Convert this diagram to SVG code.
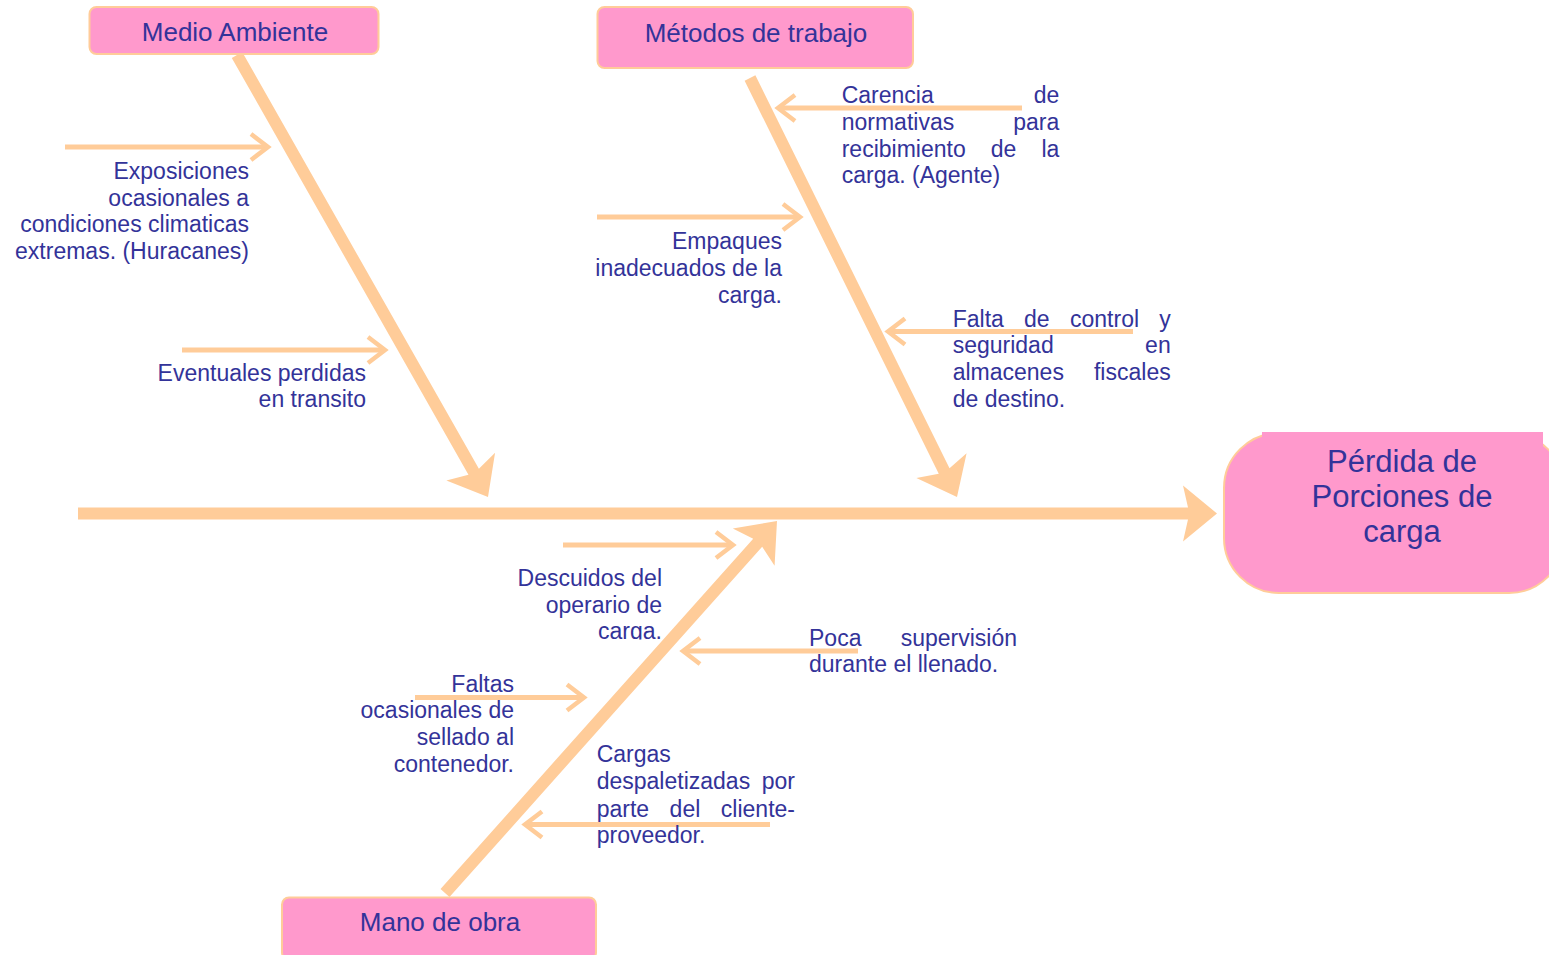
<svg xmlns="http://www.w3.org/2000/svg" width="1549" height="955" viewBox="0 0 1549 955">
<defs>
<style>
.lbl{font-family:"Liberation Sans",Arial,sans-serif;font-size:23px;fill:#333399}
.cat{font-family:"Liberation Sans",Arial,sans-serif;font-size:26px;fill:#333399;text-anchor:middle}
.eff{font-family:"Liberation Sans",Arial,sans-serif;font-size:31px;fill:#333399;text-anchor:middle}
.box{fill:#FF99CC;stroke:#FFCC99;stroke-width:2}
.bone{fill:#FFCC99}
.sub{stroke:#FFCC99;stroke-width:5;fill:none;marker-end:url(#chev)}
.e{text-anchor:end}
.m{text-anchor:middle}
</style>
<marker id="chev" markerUnits="userSpaceOnUse" markerWidth="26" markerHeight="34" refX="20" refY="17" orient="auto" viewBox="0 0 26 34">
<path d="M3,4 L20,17 L3,30" fill="none" stroke="#FFCC99" stroke-width="4.5"/>
</marker>
<clipPath id="clipF"><rect x="400" y="550" width="300" height="89.5"/></clipPath>
</defs>
<rect width="1549" height="955" fill="#FFFFFF"/>

<g id="connectors">
<polygon class="bone" id="spine" points="78,507.5 1188,507.5 1183,485.5 1217,513.5 1183,541.5 1188,519.5 78,519.5"/>
<polygon class="bone" id="bone-medio" points="231.78,57.96 468.46,474.74 446.37,480.39 488,497 495.07,452.73 478.9,468.82 242.22,52.04"/>
<polygon class="bone" id="bone-metodos" points="744.62,80.66 938.77,473.66 916.4,478.02 957,497 966.6,453.22 949.53,468.34 755.38,75.34"/>
<polygon class="bone" id="bone-mano" points="449.48,897 762.17,546.64 774.58,565.76 777,521 732.8,528.46 753.21,538.64 440.52,889"/>
<path class="sub" d="M65,147 H268"/>
<path class="sub" d="M182,350 H385"/>
<path class="sub" d="M597,217 H800"/>
<path class="sub" d="M1022,108 H778"/>
<path class="sub" d="M1133,331.5 H888"/>
<path class="sub" d="M563,545 H733"/>
<path class="sub" d="M858,651 H683"/>
<path class="sub" d="M415,697.5 H584"/>
<path class="sub" d="M770,824.5 H525"/>
</g>

<g id="node-medio">
<rect class="box" x="89.5" y="7" width="289" height="47" rx="7"/>
<text class="cat" x="235" y="40.5">Medio Ambiente</text>
</g>
<g id="node-metodos">
<rect class="box" x="597.5" y="7" width="315.5" height="61" rx="7"/>
<text class="cat" x="756" y="41.5">Métodos de trabajo</text>
</g>
<g id="node-mano">
<rect class="box" x="282" y="897.5" width="314" height="62" rx="7"/>
<text class="cat" x="440" y="931">Mano de obra</text>
</g>
<g id="node-efecto">
<rect class="box" x="1224" y="433" width="340" height="160" rx="55"/>
<rect x="1262" y="432" width="281" height="14" fill="#FF99CC"/>
<text class="eff"><tspan x="1402" y="472">Pérdida de</tspan><tspan x="1402" y="507">Porciones de</tspan><tspan x="1402" y="542">carga</tspan></text>
</g>

<g id="label-exposiciones">
<text class="lbl e"><tspan x="249" y="179.3">Exposiciones</tspan><tspan x="249" y="206">ocasionales a</tspan><tspan x="249" y="232">condiciones climaticas</tspan><tspan x="249" y="258.5">extremas. (Huracanes)</tspan></text>
</g>
<g id="label-eventuales">
<text class="lbl e"><tspan x="366" y="380.7">Eventuales perdidas</tspan><tspan x="366" y="407.3">en transito</tspan></text>
</g>
<g id="label-empaques">
<text class="lbl e"><tspan x="782" y="249.3">Empaques</tspan><tspan x="782" y="276">inadecuados de la</tspan><tspan x="782" y="302.5">carga.</tspan></text>
</g>
<g id="label-carencia">
<text class="lbl" x="841.7" y="103.3">Carencia</text>
<text class="lbl e" x="1059.3" y="103.3">de</text>
<text class="lbl" x="841.7" y="130">normativas</text>
<text class="lbl e" x="1059.3" y="130">para</text>
<text class="lbl" x="841.7" y="156.7">recibimiento</text>
<text class="lbl" x="990.7" y="156.7">de</text>
<text class="lbl e" x="1059.3" y="156.7">la</text>
<text class="lbl" x="841.7" y="183.3">carga. (Agente)</text>
</g>
<g id="label-falta">
<text class="lbl" x="952.7" y="326.7">Falta</text>
<text class="lbl" x="1024" y="326.7">de</text>
<text class="lbl" x="1070" y="326.7">control</text>
<text class="lbl e" x="1170.7" y="326.7">y</text>
<text class="lbl" x="952.7" y="353.3">seguridad</text>
<text class="lbl e" x="1170.7" y="353.3">en</text>
<text class="lbl" x="952.7" y="380">almacenes</text>
<text class="lbl e" x="1170.7" y="380">fiscales</text>
<text class="lbl" x="952.7" y="406.5">de destino.</text>
</g>
<g id="label-descuidos">
<text class="lbl e" clip-path="url(#clipF)"><tspan x="662" y="586">Descuidos del</tspan><tspan x="662" y="612.5">operario de</tspan><tspan x="662" y="639.2">carga.</tspan></text>
</g>
<g id="label-poca">
<text class="lbl" x="809" y="645.5">Poca</text>
<text class="lbl e" x="1017" y="645.5">supervisión</text>
<text class="lbl" x="809" y="672">durante el llenado.</text>
</g>
<g id="label-faltas">
<text class="lbl e"><tspan x="514" y="691.7">Faltas</tspan><tspan x="514" y="718.3">ocasionales de</tspan><tspan x="514" y="745">sellado al</tspan><tspan x="514" y="771.7">contenedor.</tspan></text>
</g>
<g id="label-cargas">
<text class="lbl" x="596.7" y="761.7">Cargas</text>
<text class="lbl" x="596.7" y="789">despaletizadas</text>
<text class="lbl e" x="795" y="789">por</text>
<text class="lbl" x="596.7" y="816.5">parte</text>
<text class="lbl" x="669.6" y="816.5">del</text>
<text class="lbl e" x="795" y="816.5">cliente-</text>
<text class="lbl" x="596.7" y="843.3">proveedor.</text>
</g>
</svg>
